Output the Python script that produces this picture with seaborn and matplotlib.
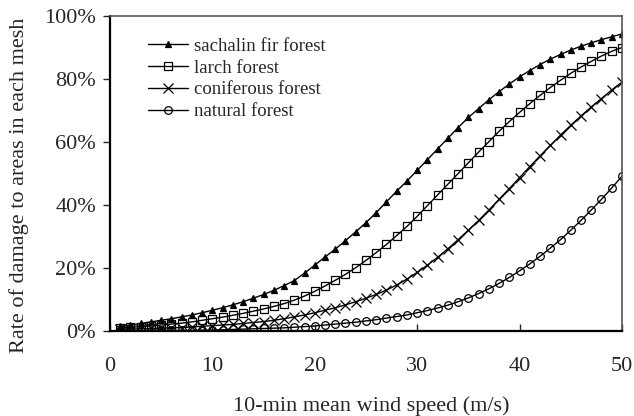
import numpy as np
import pandas as pd
import seaborn as sns
import matplotlib.pyplot as plt
from matplotlib.ticker import PercentFormatter

# wind speed (m/s)
wind = list(range(1, 51))

# damage rates (%)
sachalin = [1.5, 1.9, 2.4, 2.9, 3.4, 3.9, 4.5, 5.1, 5.8, 6.6,
            7.4, 8.3, 9.3, 10.4, 11.6, 12.9, 14.4, 16.0, 18.4, 20.9,
            23.5, 26.0, 28.7, 31.5, 34.4, 37.6, 41.0, 44.4, 47.6, 51.0,
            54.4, 57.8, 61.2, 64.6, 67.8, 70.6, 73.4, 76.0, 78.4, 80.7,
            82.7, 84.6, 86.3, 87.8, 89.2, 90.4, 91.5, 92.5, 93.4, 94.3]
larch = [1.0, 1.2, 1.4, 1.6, 1.9, 2.2, 2.5, 2.9, 3.4, 3.9,
         4.4, 5.0, 5.6, 6.3, 7.0, 7.8, 8.7, 9.8, 11.1, 12.6,
         14.3, 16.1, 18.0, 20.1, 22.4, 24.9, 27.5, 30.3, 33.2, 36.4,
         39.8, 43.2, 46.6, 50.0, 53.4, 56.8, 60.1, 63.4, 66.5, 69.4,
         72.2, 74.8, 77.3, 79.6, 81.8, 83.8, 85.6, 87.3, 88.8, 90.0]
coniferous = [0.5, 0.6, 0.7, 0.8, 0.9, 1.0, 1.1, 1.3, 1.5, 1.7,
              1.9, 2.1, 2.4, 2.7, 3.0, 3.4, 3.9, 4.5, 5.1, 5.8,
              6.6, 7.4, 8.3, 9.3, 10.4, 11.6, 13.0, 14.6, 16.5, 18.6,
              20.9, 23.4, 26.1, 29.0, 32.0, 35.1, 38.4, 41.8, 45.2, 48.7,
              52.2, 55.6, 58.9, 62.2, 65.3, 68.3, 71.1, 73.8, 76.5, 79.0]
natural = [0.1, 0.1, 0.1, 0.1, 0.2, 0.2, 0.2, 0.2, 0.3, 0.3,
           0.4, 0.5, 0.6, 0.7, 0.8, 0.9, 1.0, 1.2, 1.4, 1.6,
           1.9, 2.2, 2.5, 2.8, 3.2, 3.6, 4.1, 4.6, 5.1, 5.8,
           6.5, 7.3, 8.2, 9.3, 10.5, 11.9, 13.4, 15.1, 17.0, 19.1,
           21.3, 23.7, 26.3, 29.0, 32.0, 35.1, 38.4, 41.8, 45.4, 49.1]

series = [("sachalin fir forest", sachalin, "^", "black"),
          ("larch forest", larch, "s", "none"),
          ("coniferous forest", coniferous, "x", "none"),
          ("natural forest", natural, "o", "none")]

sns.set_style("ticks")
plt.rcParams['font.family'] = ['Liberation Serif', 'DejaVu Serif']

fig, ax = plt.subplots(figsize=(6.34, 4.16), dpi=100)
fig.subplots_adjust(left=0.1735, right=0.981, top=0.9615, bottom=0.2043)

sizes = {"^": 5, "s": 6, "x": 7, "o": 5.5}
for name, vals, mk, fc in series:
    sns.lineplot(x=wind, y=vals, ax=ax, color="black", linewidth=1,
                 marker=mk, markersize=sizes[mk], markerfacecolor=fc,
                 markeredgecolor="black", markeredgewidth=0.9, label=name)

ax.set_xlim(0, 50)
ax.set_ylim(0, 100)
ax.set_xticks([0, 10, 20, 30, 40, 50])
ax.set_yticks([0, 20, 40, 60, 80, 100])
ax.yaxis.set_major_formatter(PercentFormatter(decimals=0))

ax.tick_params(axis='x', direction='in', length=5, labelsize=16, pad=19, width=1)
ax.tick_params(axis='y', direction='out', length=5, labelsize=16, pad=5, width=1)
ax.tick_params(axis='x', which='both', top=False)

# label positions (centred, in axes coords)
ax.set_xlabel("10-min mean wind speed (m/s)", fontsize=16, va="center")
ax.xaxis.set_label_coords(0.51, -0.238)
ax.set_ylabel("Rate of damage to areas in each mesh", fontsize=16, va="center")
ax.yaxis.set_label_coords(-0.178, 0.463)

for s in ["left", "bottom"]:
    ax.spines[s].set_color("black")
    ax.spines[s].set_linewidth(1.6)
for s in ["top", "right"]:
    ax.spines[s].set_visible(True)
    ax.spines[s].set_color("#555555")
    ax.spines[s].set_linewidth(1.2)

leg = ax.legend(loc="upper left", bbox_to_anchor=(0.06, 0.955), frameon=False,
                fontsize=13.5, handlelength=2.1, handletextpad=0.35,
                labelspacing=0.25, borderaxespad=0)

fig.savefig("out.png", dpi=100)
